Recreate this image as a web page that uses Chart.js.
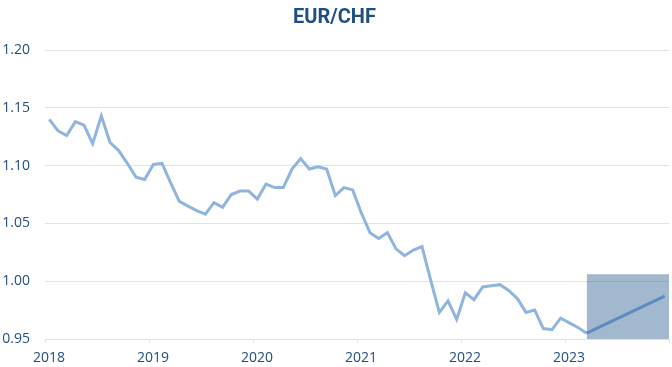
<!DOCTYPE html>
<html>
<head>
<meta charset="utf-8">
<script src="https://cdn.jsdelivr.net/npm/chart.js@4/dist/chart.umd.min.js"></script>
<style>
  html, body { margin: 0; padding: 0; background: #fff; }
  #wrap { width: 672px; height: 367px; }
</style>
</head>
<body>
<div id="wrap"><canvas id="chart"></canvas></div>
<script>
// monthly EUR/CHF, Jan 2018 .. Mar 2023
const startYear = 2018;
const eurChf = [
  1.140, 1.130, 1.126, 1.138, 1.135, 1.119, 1.143, 1.120, 1.113, 1.102, 1.090, 1.088,
  1.101, 1.102, 1.085, 1.069, 1.065, 1.061, 1.058, 1.068, 1.064, 1.075, 1.078, 1.078,
  1.071, 1.084, 1.081, 1.081, 1.097, 1.106, 1.097, 1.099, 1.097, 1.074, 1.081, 1.079,
  1.059, 1.042, 1.037, 1.042, 1.028, 1.022, 1.027, 1.030, 1.001, 0.973, 0.983, 0.967,
  0.990, 0.984, 0.995, 0.996, 0.997, 0.992, 0.985, 0.973, 0.975, 0.959, 0.958, 0.968,
  0.964, 0.960, 0.955
];
// forecast: month index (from Jan 2018) and value
const forecastMonths = [62, 71];
const forecastValues = [0.955, 0.987];
const bandTop = 1.006;
const xTicks = [2018, 2019, 2020, 2021, 2022, 2023, 2024];
const yTicks = [0.95, 1.00, 1.05, 1.10, 1.15, 1.20];

const TEXT = '#1f4e82';
const GRID = '#e2e2e2';

(function () {
  function monthX(i) {
    return startYear + (i + 0.5) / 12;
  }

  function getData() {
    const hist = eurChf.map((v, i) => ({ x: monthX(i), y: v }));
    const fc = forecastMonths.map((m, i) => ({ x: monthX(m), y: forecastValues[i] }));
    const band = [
      { x: monthX(forecastMonths[0]), y: bandTop },
      { x: xTicks[xTicks.length - 1], y: bandTop }
    ];
    return {
      datasets: [
        {
          label: 'Forecast',
          data: fc,
          borderColor: 'rgba(80,130,190,0.85)',
          borderWidth: 3,
          pointRadius: 0,
          fill: false
        },
        {
          label: 'Band',
          data: band,
          borderWidth: 0,
          borderColor: 'rgba(0,0,0,0)',
          backgroundColor: 'rgba(70,114,160,0.5)',
          pointRadius: 0,
          fill: 'start'
        },
        {
          label: 'EUR/CHF',
          data: hist,
          borderColor: '#8fb5df',
          borderWidth: 3,
          pointRadius: 0,
          fill: false
        }
      ]
    };
  }

  function getConfig(data) {
    return {
      type: 'line',
      data: data,
      options: {
        responsive: true,
        maintainAspectRatio: false,
        animation: false,
        layout: { padding: { left: 0, right: 3, top: 0, bottom: 0 } },
        plugins: {
          legend: { display: false },
          tooltip: { enabled: false },
          title: {
            display: true,
            text: 'EUR/CHF',
            color: TEXT,
            font: { family: 'Roboto', size: 20, weight: 'bold' },
            padding: { top: 6, bottom: 20 }
          }
        },
        scales: {
          x: {
            type: 'linear',
            min: xTicks[0],
            max: xTicks[xTicks.length - 1],
            afterBuildTicks: (axis) => { axis.ticks = xTicks.map(v => ({ value: v })); },
            afterFit: (axis) => {
              axis.height = 28;
              axis.paddingLeft = 0;
              axis.paddingRight = 0;
            },
            ticks: {
              color: TEXT,
              font: { family: 'Open Sans', size: 14 },
              padding: 7,
              labelOffset: 4,
              maxRotation: 0,
              callback: (v) => (v === xTicks[xTicks.length - 1] ? '' : String(v))
            },
            grid: { drawOnChartArea: false, drawTicks: true, tickLength: 4, color: GRID },
            border: { color: GRID }
          },
          y: {
            min: yTicks[0],
            max: yTicks[yTicks.length - 1],
            afterBuildTicks: (axis) => { axis.ticks = yTicks.map(v => ({ value: v })); },
            afterFit: (axis) => { axis.width = 45; },
            ticks: {
              color: TEXT,
              font: { family: 'Open Sans', size: 14 },
              padding: 15,
              callback: (v) => v.toFixed(2)
            },
            grid: { color: GRID, drawTicks: false },
            border: { display: false }
          }
        }
      }
    };
  }

  function main() {
    const ctx = document.getElementById('chart').getContext('2d');
    new Chart(ctx, getConfig(getData()));
  }

  main();
}());
</script>
</body>
</html>
